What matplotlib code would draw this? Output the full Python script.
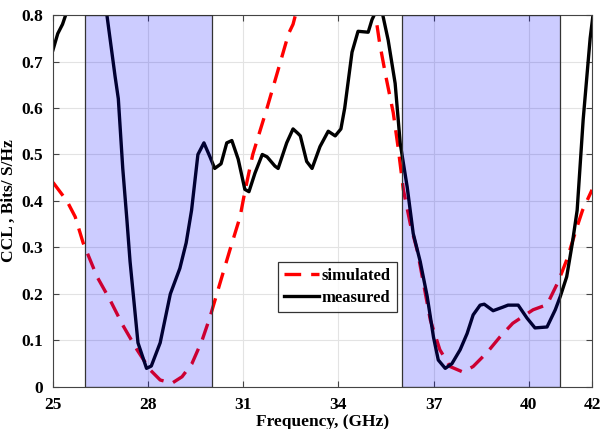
"""CCL versus frequency: simulated and measured curves with shaded bands."""

import matplotlib
matplotlib.use("Agg")
import matplotlib.pyplot as plt

# simulated CCL (red dashed)
sim_freq = [25.0, 25.44, 25.7, 25.95, 26.39, 26.8, 27.2, 27.65, 28.06, 28.38,
            28.75, 29.07, 29.38, 29.7, 29.95, 30.27, 30.58, 30.9, 31.05, 31.3,
            31.75, 32.07, 32.43, 32.57, 32.8, 34.0, 35.0, 35.17, 35.3, 35.5,
            35.73, 35.88, 36.05, 36.27, 36.5, 36.9, 37.2, 37.52, 37.93, 38.25,
            38.7, 39.1, 39.5, 40.14, 40.58, 40.93, 41.2, 41.53, 41.7, 42.0]
sim_ccl = [0.44, 0.40, 0.366, 0.31, 0.237, 0.187, 0.133, 0.08, 0.037, 0.015,
           0.008, 0.022, 0.05, 0.10, 0.15, 0.224, 0.295, 0.366, 0.42, 0.50,
           0.60, 0.675, 0.76, 0.78, 0.84, 1.10, 0.86, 0.80, 0.74, 0.667,
           0.59, 0.517, 0.424, 0.35, 0.29, 0.144, 0.08, 0.044, 0.032, 0.044,
           0.075, 0.108, 0.137, 0.166, 0.177, 0.226, 0.273, 0.345, 0.38, 0.424]

# measured CCL (black solid)
meas_freq = [25.0, 25.15, 25.3, 25.6, 26.6, 26.7, 26.96, 27.06, 27.2, 27.33,
             27.43, 27.68, 27.95, 28.1, 28.38, 28.7, 29.0, 29.2, 29.37, 29.57,
             29.76, 29.95, 30.1, 30.3, 30.48, 30.64, 30.84, 31.05, 31.18, 31.37,
             31.6, 31.75, 32.0, 32.1, 32.37, 32.57, 32.73, 32.8, 33.0, 33.17,
             33.42, 33.68, 33.9, 34.08, 34.2, 34.43, 34.62, 34.94, 35.06, 35.2,
             35.4, 35.57, 35.79, 35.95, 36.17, 36.36, 36.58, 36.8, 37.0, 37.15,
             37.37, 37.58, 37.84, 38.06, 38.25, 38.47, 38.6, 38.88, 39.2, 39.35,
             39.67, 39.95, 40.2, 40.58, 40.84, 41.0, 41.2, 41.38, 41.53, 41.72,
             41.94, 42.03]
meas_ccl = [0.725, 0.76, 0.78, 0.84, 0.84, 0.80, 0.667, 0.62, 0.47, 0.36,
            0.27, 0.095, 0.04, 0.045, 0.095, 0.20, 0.255, 0.31, 0.38, 0.50,
            0.525, 0.495, 0.47, 0.48, 0.525, 0.53, 0.49, 0.425, 0.42, 0.46,
            0.50, 0.495, 0.475, 0.47, 0.525, 0.555, 0.545, 0.54, 0.485, 0.47,
            0.517, 0.55, 0.54, 0.555, 0.60, 0.72, 0.765, 0.763, 0.79, 0.81,
            0.80, 0.746, 0.653, 0.524, 0.43, 0.33, 0.27, 0.195, 0.107, 0.058,
            0.04, 0.05, 0.08, 0.115, 0.155, 0.176, 0.178, 0.164, 0.172, 0.176,
            0.176, 0.148, 0.127, 0.129, 0.166, 0.195, 0.237, 0.31, 0.38, 0.575,
            0.75, 0.80]

bands = [(26, 30), (36, 41)]
x_ticks = [25, 28, 31, 34, 37, 40, 42]
y_ticks = [0, 0.1, 0.2, 0.3, 0.4, 0.5, 0.6, 0.7, 0.8]
y_tick_labels = ["0", "0.1", "0.2", "0.3", "0.4", "0.5", "0.6", "0.7", "0.8"]

plt.rcParams["font.family"] = ["Liberation Serif", "DejaVu Serif"]
plt.rcParams["font.weight"] = "bold"

fig = plt.figure(figsize=(6.05, 4.29), dpi=100)
ax = fig.add_axes([0.0876, 0.098, 0.891, 0.867])

ax.plot(sim_freq, sim_ccl, color="#FF0000", linewidth=2.4,
        linestyle=(0, (5, 3)), label="simulated", zorder=2,
        solid_joinstyle="round")
ax.plot(meas_freq, meas_ccl, color="black", linewidth=2.4,
        label="measured", zorder=2, solid_joinstyle="round")

for lo, hi in bands:
    ax.axvspan(lo, hi, facecolor=(0, 0, 1, 0.2), edgecolor="#333333",
               linewidth=0.9, zorder=3)

ax.set_xlim(25, 42)
ax.set_ylim(0, 0.8)
ax.set_xticks(x_ticks)
ax.set_yticks(y_ticks)
ax.set_yticklabels(y_tick_labels)
ax.grid(True, color="#E3E3E3", linewidth=0.8, zorder=0)
ax.set_axisbelow(True)
ax.tick_params(direction="in", top=True, right=True, length=4,
               labelsize=12.5, color="#444444", pad=7)
for spine in ax.spines.values():
    spine.set_color("#444444")
    spine.set_linewidth(0.8)

ax.set_xlabel("Frequency, (GHz)", fontsize=12.5, fontweight="bold", labelpad=1)
ax.set_ylabel("CCL , Bits/ S/Hz", fontsize=12.5, fontweight="bold", labelpad=3)

leg = ax.legend(loc="upper left", bbox_to_anchor=(0.417, 0.335), fontsize=12,
                frameon=True, fancybox=False, edgecolor="black",
                handlelength=2.1, handletextpad=0.2, borderpad=0.35,
                labelspacing=0.35, borderaxespad=0)
leg.get_frame().set_linewidth(0.9)
leg.set_zorder(5)

fig.savefig("out.png", dpi=100)
